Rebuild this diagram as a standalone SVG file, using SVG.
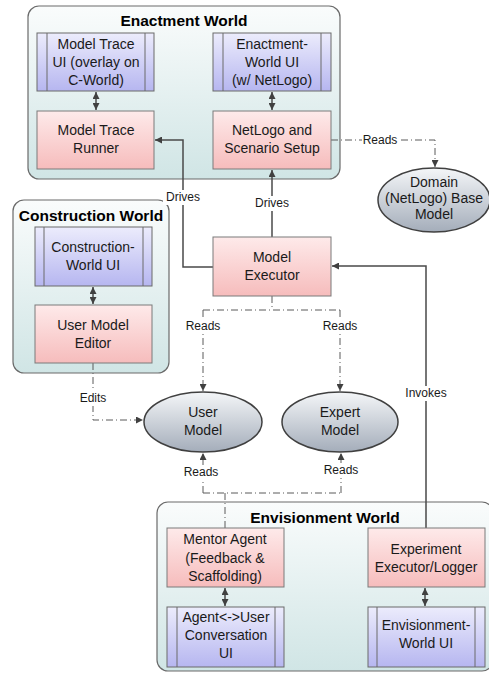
<svg xmlns="http://www.w3.org/2000/svg" width="489" height="673" viewBox="0 0 489 673">
<defs>
<linearGradient id="gCont" x1="0" y1="0" x2="0" y2="1"><stop offset="0" stop-color="#fafcfc"/><stop offset="1" stop-color="#d0e5e5"/></linearGradient>
<linearGradient id="gPink" x1="0" y1="0" x2="0" y2="1"><stop offset="0" stop-color="#feeaea"/><stop offset="1" stop-color="#f6bcbc"/></linearGradient>
<linearGradient id="gLav" x1="0" y1="0" x2="0" y2="1"><stop offset="0" stop-color="#ececfc"/><stop offset="1" stop-color="#b6b6f0"/></linearGradient>
<linearGradient id="gEll" x1="0" y1="0" x2="0" y2="1"><stop offset="0" stop-color="#f4f6f8"/><stop offset="1" stop-color="#a4adba"/></linearGradient>
<marker id="ah" viewBox="0 0 10 10" refX="10" refY="5" markerWidth="7" markerHeight="7" markerUnits="userSpaceOnUse" orient="auto-start-reverse"><path d="M0,0 L10,5 L0,10 Z" fill="#404040"/></marker>
<style>
.cont{fill:url(#gCont);stroke:#6a6a6a;stroke-width:1.2}
.pink{fill:url(#gPink);stroke:#7a7a7a;stroke-width:1}
.lav{fill:url(#gLav);stroke:#6a6a6a;stroke-width:1}
.ell{fill:url(#gEll);stroke:#404040;stroke-width:1.5}
.bar{stroke:#6a6a6a;stroke-width:1}
text{font-family:"Liberation Sans",Arial,sans-serif;fill:#1a1a1a}
.t{font-size:14px;text-anchor:middle}
.h{font-size:15.5px;font-weight:bold;text-anchor:middle;fill:#000}
.l{font-size:12px;text-anchor:middle}
.solid{fill:none;stroke:#4a4a4a;stroke-width:1.5}
.dd{fill:none;stroke:#5a5a5a;stroke-width:1;stroke-dasharray:7,3,1,3}
.dbl{fill:none;stroke:#4a4a4a;stroke-width:1.5;marker-start:url(#ah);marker-end:url(#ah)}
.bg{fill:#fff}
</style>
</defs>
<rect width="489" height="673" fill="#fff"/>

<g id="enactment-world">
<rect class="cont" x="28" y="6" width="312" height="173" rx="11"/>
<text class="h" x="184" y="26">Enactment World</text>
</g>
<g id="construction-world">
<rect class="cont" x="13" y="200" width="156" height="173" rx="11"/>
<text class="h" x="91" y="221">Construction World</text>
</g>
<g id="envisionment-world">
<rect class="cont" x="157" y="502" width="336" height="169" rx="11"/>
<text class="h" x="325" y="523">Envisionment World</text>
</g>

<g id="connectors">
<path class="solid" d="M213,267 H183 V140 H155" marker-end="url(#ah)"/>
<path class="solid" d="M272,237 V170" marker-end="url(#ah)"/>
<path class="solid" d="M426,528 V266 H332" marker-end="url(#ah)"/>
<path class="dd" d="M331,140 H435 V167" marker-end="url(#ah)"/>
<path class="dd" d="M272,296 V310"/>
<path class="dd" d="M203,310 H340"/>
<path class="dd" d="M203,310 V391" marker-end="url(#ah)"/>
<path class="dd" d="M340,310 V391" marker-end="url(#ah)"/>
<path class="dd" d="M225,528 V493"/>
<path class="dd" d="M203,493 H341"/>
<path class="dd" d="M203,493 V453" marker-end="url(#ah)"/>
<path class="dd" d="M341,493 V453" marker-end="url(#ah)"/>
<path class="dd" d="M93,363 V420 H143" marker-end="url(#ah)"/>
<path class="dbl" d="M96,92 V110"/>
<path class="dbl" d="M272,92 V110"/>
<path class="dbl" d="M93,287 V304"/>
<path class="dbl" d="M225,588 V606"/>
<path class="dbl" d="M425,588 V606"/>
<rect class="bg" x="163" y="190" width="40" height="15"/>
<text class="l" x="183" y="201">Drives</text>
<rect class="bg" x="252" y="196" width="40" height="15"/>
<text class="l" x="272" y="207">Drives</text>
<rect class="bg" x="362" y="133" width="36" height="15"/>
<text class="l" x="380" y="144">Reads</text>
<rect class="bg" x="185" y="319" width="36" height="15"/>
<text class="l" x="203" y="330">Reads</text>
<rect class="bg" x="322" y="319" width="36" height="15"/>
<text class="l" x="340" y="330">Reads</text>
<rect class="bg" x="77" y="391" width="32" height="15"/>
<text class="l" x="93" y="402">Edits</text>
<rect class="bg" x="403" y="386" width="46" height="15"/>
<text class="l" x="426" y="397">Invokes</text>
<rect class="bg" x="183" y="465" width="36" height="15"/>
<text class="l" x="201" y="476">Reads</text>
<rect class="bg" x="323" y="463" width="36" height="15"/>
<text class="l" x="341" y="474">Reads</text>
</g>

<g id="model-trace-ui">
<rect class="lav" x="37" y="33" width="117" height="58"/>
<line class="bar" x1="47" y1="33" x2="47" y2="91"/><line class="bar" x1="145" y1="33" x2="145" y2="91"/>
<text class="t" x="96" y="49">Model Trace</text><text class="t" x="96" y="67">UI (overlay on</text><text class="t" x="96" y="85">C-World)</text>
</g>
<g id="enactment-world-ui">
<rect class="lav" x="213" y="33" width="118" height="58"/>
<line class="bar" x1="223" y1="33" x2="223" y2="91"/><line class="bar" x1="321" y1="33" x2="321" y2="91"/>
<text class="t" x="272" y="49">Enactment-</text><text class="t" x="272" y="67">World UI</text><text class="t" x="272" y="85">(w/ NetLogo)</text>
</g>
<g id="model-trace-runner">
<rect class="pink" x="37" y="111" width="117" height="58"/>
<text class="t" x="96" y="135">Model Trace</text><text class="t" x="96" y="153">Runner</text>
</g>
<g id="netlogo-setup">
<rect class="pink" x="213" y="111" width="118" height="58"/>
<text class="t" x="272" y="135">NetLogo and</text><text class="t" x="272" y="153">Scenario Setup</text>
</g>
<g id="domain-model">
<ellipse class="ell" cx="434" cy="200" rx="56" ry="32"/>
<text class="t" x="434" y="187">Domain</text><text class="t" x="434" y="203">(NetLogo) Base</text><text class="t" x="434" y="219">Model</text>
</g>
<g id="construction-world-ui">
<rect class="lav" x="35" y="227" width="117" height="59"/>
<line class="bar" x1="44" y1="227" x2="44" y2="286"/><line class="bar" x1="143" y1="227" x2="143" y2="286"/>
<text class="t" x="93" y="252">Construction-</text><text class="t" x="93" y="270">World UI</text>
</g>
<g id="user-model-editor">
<rect class="pink" x="35" y="305" width="117" height="58"/>
<text class="t" x="93" y="330">User Model</text><text class="t" x="93" y="348">Editor</text>
</g>
<g id="model-executor">
<rect class="pink" x="213" y="237" width="118" height="59"/>
<text class="t" x="272" y="262">Model</text><text class="t" x="272" y="280">Executor</text>
</g>
<g id="user-model">
<ellipse class="ell" cx="203" cy="422" rx="59" ry="30"/>
<text class="t" x="203" y="417">User</text><text class="t" x="203" y="435">Model</text>
</g>
<g id="expert-model">
<ellipse class="ell" cx="340" cy="422" rx="58" ry="30"/>
<text class="t" x="340" y="417">Expert</text><text class="t" x="340" y="435">Model</text>
</g>
<g id="mentor-agent">
<rect class="pink" x="167" y="528" width="117" height="59"/>
<text class="t" x="225" y="544">Mentor Agent</text><text class="t" x="225" y="563">(Feedback &amp;</text><text class="t" x="225" y="581">Scaffolding)</text>
</g>
<g id="conversation-ui">
<rect class="lav" x="167" y="607" width="117" height="60"/>
<line class="bar" x1="177" y1="607" x2="177" y2="667"/><line class="bar" x1="275" y1="607" x2="275" y2="667"/>
<text class="t" x="226" y="622">Agent&lt;-&gt;User</text><text class="t" x="226" y="640">Conversation</text><text class="t" x="226" y="658">UI</text>
</g>
<g id="experiment-executor">
<rect class="pink" x="368" y="528" width="117" height="59"/>
<text class="t" x="426" y="554">Experiment</text><text class="t" x="426" y="572">Executor/Logger</text>
</g>
<g id="envisionment-world-ui">
<rect class="lav" x="368" y="607" width="117" height="60"/>
<line class="bar" x1="377" y1="607" x2="377" y2="667"/><line class="bar" x1="475" y1="607" x2="475" y2="667"/>
<text class="t" x="426" y="630">Envisionment-</text><text class="t" x="426" y="648">World UI</text>
</g>
</svg>
